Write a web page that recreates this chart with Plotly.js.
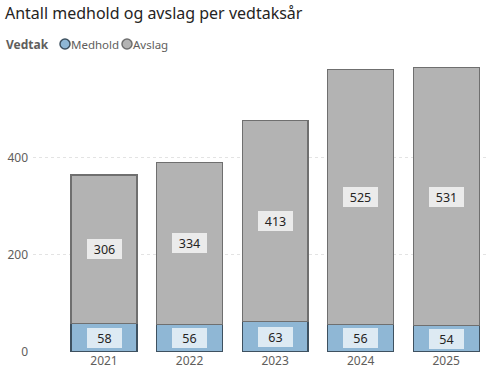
<!DOCTYPE html>
<html><head><meta charset="utf-8">
<script src="https://cdn.plot.ly/plotly-3.0.1.min.js"></script>
<style>html,body{margin:0;padding:0;background:#fff;}#chart{width:492px;height:382px;}</style>
</head><body><div id="chart"></div>
<script>
const years = ['2021','2022','2023','2024','2025'];
const medhold = [58, 56, 63, 56, 54];
const avslag = [306, 334, 413, 525, 531];
const yTicks = [0, 200, 400];
const seriesNames = ['Medhold', 'Avslag'];
const legendTitle = 'Vedtak';
const chartTitle = 'Antall medhold og avslag per vedtaksår';

const FONT = 'Noto Sans, Open Sans, sans-serif';
const blueFill = '#8FB7D5', blueLine = '#3E5160';
const greyFill = '#B3B3B3', greyLine = '#6F6F6F';

const traces = [
  {type:'bar', x: years, y: medhold, name: seriesNames[0], showlegend:false,
   marker:{color: blueFill, line:{color: blueLine, width:1.3}}, hoverinfo:'none'},
  {type:'bar', x: years, y: avslag, name: seriesNames[1], showlegend:false,
   marker:{color: greyFill, line:{color: greyLine, width:1.3}}, hoverinfo:'none'}
];

const annotations = [];
years.forEach((yr, i) => {
  annotations.push({x: i, y: medhold[i]/2, xref:'x', yref:'y', text: String(medhold[i]),
    showarrow:false, bgcolor:'#DDEAF3', borderpad:2, borderwidth:0, width:31, height:16,
    font:{family:FONT, size:12.5, color:'#252423'}});
  annotations.push({x: i, y: medhold[i] + avslag[i]/2, xref:'x', yref:'y', text: String(avslag[i]),
    showarrow:false, bgcolor:'#EBEBEB', borderpad:2, borderwidth:0, width:31, height:16,
    font:{family:FONT, size:12.5, color:'#252423'}});
});

// legend built as annotations + circle shapes (pixel -> paper)
const L = 33, R = 3, T = 61, B = 30, W = 492, H = 382;
const pw = W - L - R, ph = H - T - B;
const px = v => (v - L) / pw;
const py = v => (H - B - v) / ph;
annotations.push({xref:'paper', yref:'paper', x: px(4), y: py(44), xanchor:'left', yanchor:'middle',
  text:'<b>' + legendTitle + '</b>', showarrow:false, font:{family:FONT, size:12, color:'#605E5C'}});
annotations.push({xref:'paper', yref:'paper', x: px(69), y: py(44), xanchor:'left', yanchor:'middle',
  text: seriesNames[0], showarrow:false, font:{family:FONT, size:11.5, color:'#605E5C'}});
annotations.push({xref:'paper', yref:'paper', x: px(131), y: py(44), xanchor:'left', yanchor:'middle',
  text: seriesNames[1], showarrow:false, font:{family:FONT, size:11.5, color:'#605E5C'}});
const shapes = [
  {type:'circle', xref:'paper', yref:'paper', x0: px(60), x1: px(70), y0: py(49), y1: py(39),
   fillcolor: blueFill, line:{color: blueLine, width:1.5}},
  {type:'circle', xref:'paper', yref:'paper', x0: px(122), x1: px(132), y0: py(49), y1: py(39),
   fillcolor: greyFill, line:{color: greyLine, width:1.5}}
];

const layout = {
  width: W, height: H,
  margin:{l:L, r:R, t:T, b:B, pad:0},
  paper_bgcolor:'#fff', plot_bgcolor:'#fff',
  barmode:'stack', bargap:0.23,
  showlegend:false,
  title:{text: chartTitle, x:0.01, xanchor:'left', y:0.965, yanchor:'middle', xref:'container', yref:'container',
         font:{family:FONT, size:16, color:'#252423'}},
  xaxis:{type:'category', range:[-0.83, 4.5], showgrid:false, zeroline:false, showline:false,
         tickfont:{family:FONT, size:12, color:'#605E5C'}, ticks:'', fixedrange:true},
  yaxis:{range:[0, 598], tickvals: yTicks, ticktext: yTicks.map(String), showgrid:true,
         gridcolor:'#E3E3E3', griddash:'dot', gridwidth:1, zeroline:false, showline:false,
         tickfont:{family:FONT, size:12, color:'#605E5C'}, ticks:'', ticklabelstandoff:4, fixedrange:true},
  annotations: annotations,
  shapes: shapes
};
Plotly.newPlot('chart', traces, layout, {displayModeBar:false, staticPlot:true});
</script></body></html>
